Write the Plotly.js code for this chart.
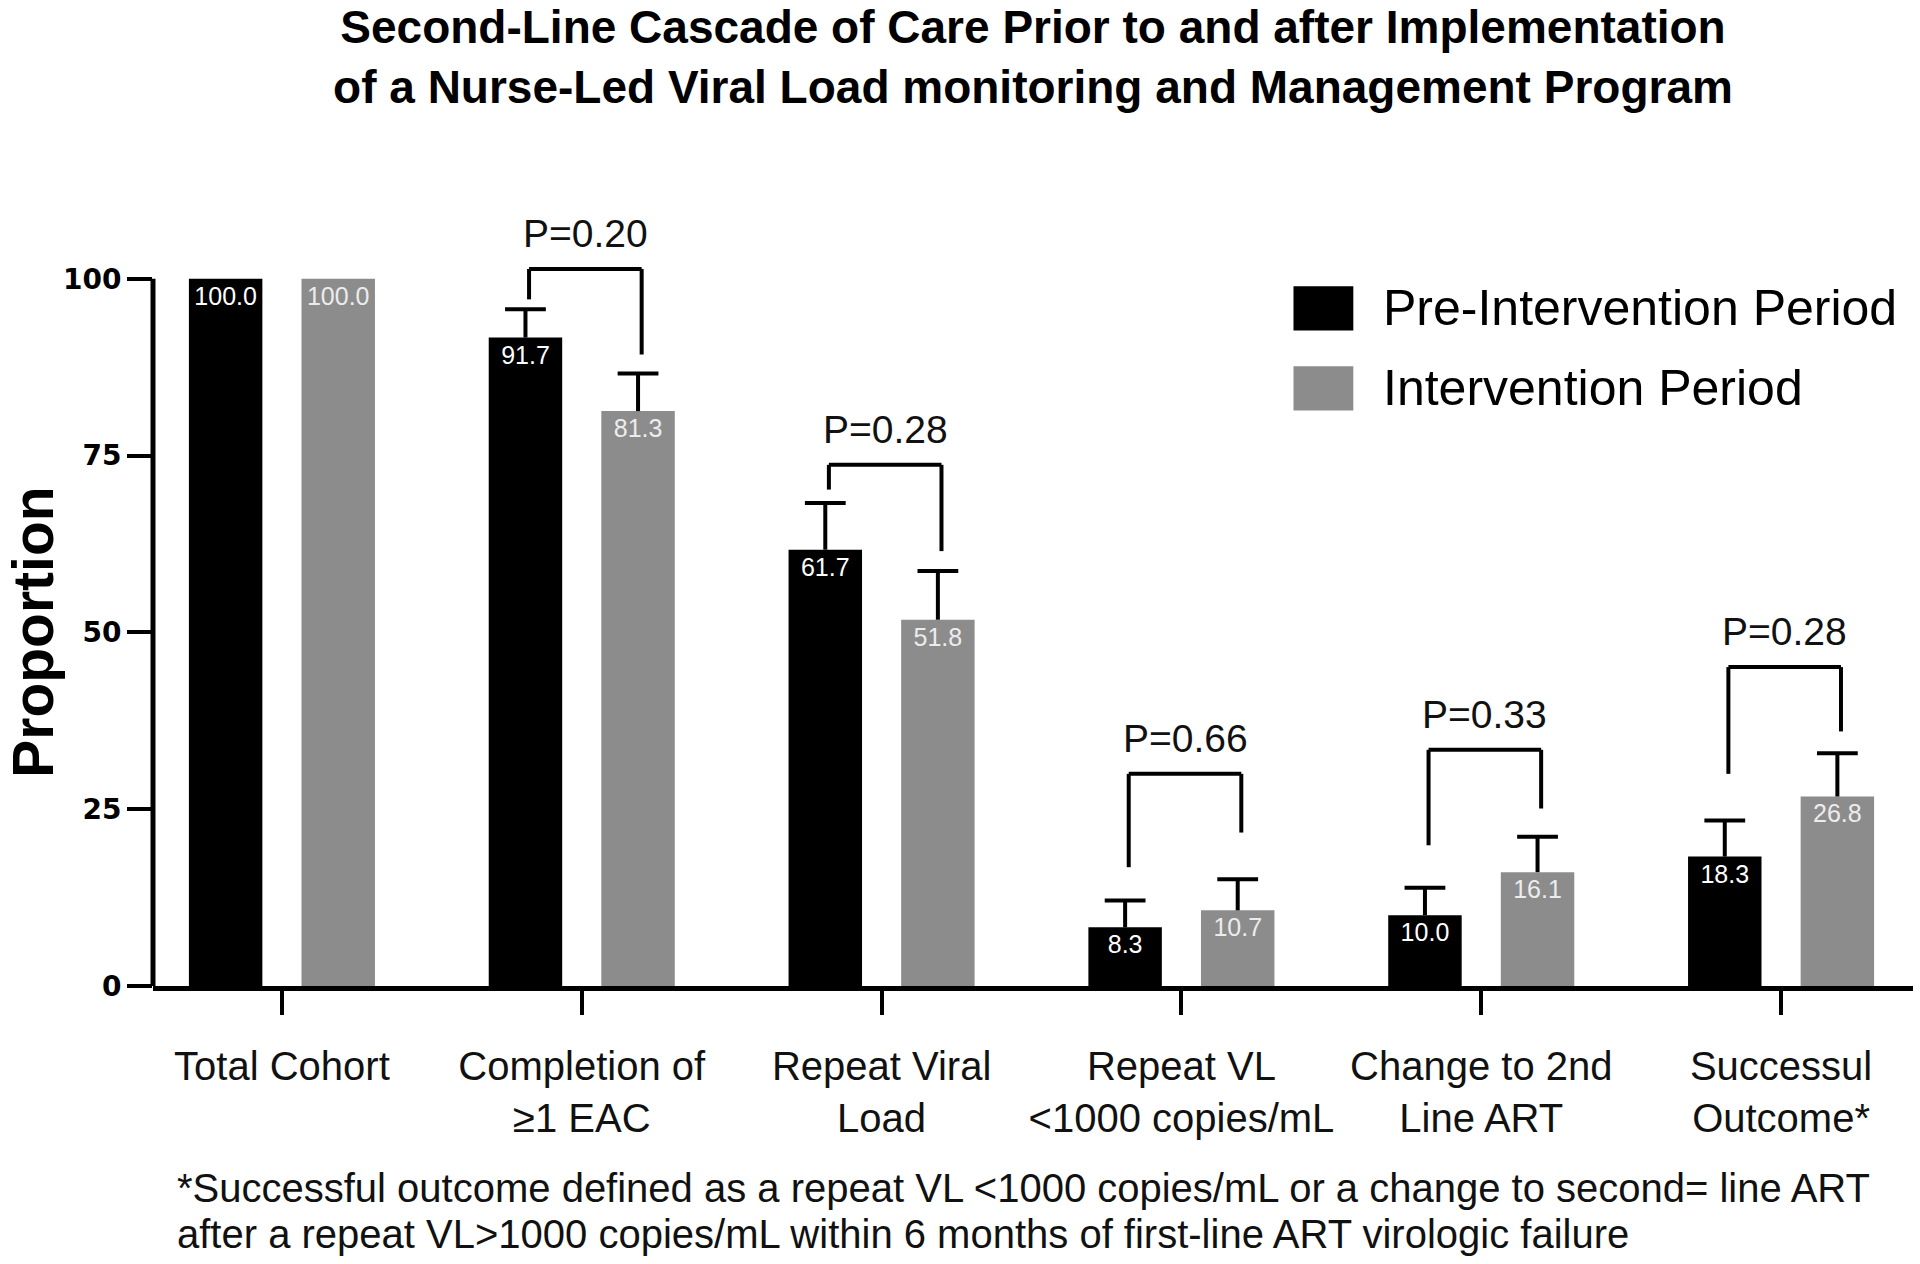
<!DOCTYPE html>
<html><head><meta charset="utf-8">
<script src="https://cdn.plot.ly/plotly-3.0.1.min.js"></script>
<style>html,body{margin:0;padding:0;background:#fff}#chart{width:1920px;height:1264px}</style>
</head><body><div id="chart"></div>
<script>
// ---- data ----
const categories = ['Total Cohort', 'Completion of ≥1 EAC', 'Repeat Viral Load', 'Repeat VL <1000 copies/mL', 'Change to 2nd Line ART', 'Successul Outcome*'];
const tickLabels = ['Total Cohort', 'Completion of<br>≥1 EAC', 'Repeat Viral<br>Load', 'Repeat VL<br>&lt;1000 copies/mL', 'Change to 2nd<br>Line ART', 'Successul<br>Outcome*'];
const seriesNames = ['Pre-Intervention Period', 'Intervention Period'];
const preVals = [100.0, 91.7, 61.7, 8.3, 10.0, 18.3];
const intVals = [100.0, 81.3, 51.8, 10.7, 16.1, 26.8];
const preErr = [null, 4.0, 6.6, 3.8, 3.9, 5.1];
const intErr = [null, 5.3, 6.9, 4.4, 5.0, 6.1];
const pLabels = ['', 'P=0.20', 'P=0.28', 'P=0.66', 'P=0.33', 'P=0.28'];
const bracketTop = [null, 101.4, 73.7, 30.0, 33.4, 45.1];
const bracketLeftEnd = [null, 97.1, 70.2, 16.8, 19.9, 30.0];
const bracketRightEnd = [null, 89.3, 61.5, 21.7, 25.1, 36.0];
const yTickVals = [0, 25, 50, 75, 100];
const footnoteLines = [
  '*Successful outcome defined as a repeat VL &lt;1000 copies/mL or a change to second= line ART',
  'after a repeat VL&gt;1000 copies/mL within 6 months of first-line ART virologic failure'
];

// ---- style ----
const FONT = 'Liberation Sans, Arial, sans-serif';
const BLACK = '#000000';
const GREY = '#8c8c8c';
const bargap = 0.249, bargroupgap = 0.3475;
const half = (1 - bargap) / 4; // centre offset of each bar within its group
const capHalf = 0.068;          // half-width of error caps, in category units
const bracketNudge = 0.012;     // brackets sit slightly right of bar centres

function errArr(a) { return a.map(v => (v === null ? undefined : v)); }

function barTrace(name, vals, errs, color, txtColor) {
  return {
    type: 'bar', name: name, x: categories, y: vals,
    marker: {color: color, line: {width: 0}},
    texttemplate: '%{y:.1f}', textposition: 'inside', insidetextanchor: 'end',
    textangle: 0, constraintext: 'none',
    textfont: {family: FONT, size: 25, color: txtColor},
    error_y: {type: 'data', symmetric: false, array: errArr(errs), color: '#000', thickness: 4, width: 0},
    showlegend: false, hoverinfo: 'skip'
  };
}

const traces = [
  barTrace(seriesNames[0], preVals, preErr, BLACK, '#ffffff'),
  barTrace(seriesNames[1], intVals, intErr, GREY, '#ececec')
];

const shapes = [];
const annotations = [];

// y-axis line from 0 to 100 only
shapes.push({type: 'line', xref: 'paper', yref: 'y', x0: 0, x1: 0, y0: 0, y1: yTickVals[yTickVals.length - 1],
  line: {color: '#000', width: 5}});

// error-bar caps (upper only)
[[preVals, preErr, -1], [intVals, intErr, 1]].forEach(([vals, errs, side]) => {
  vals.forEach((v, i) => {
    if (errs[i] === null) return;
    const xc = i + side * half;
    shapes.push({type: 'line', xref: 'x', yref: 'y', x0: xc - capHalf, x1: xc + capHalf,
      y0: v + errs[i], y1: v + errs[i], line: {color: '#000', width: 4}});
  });
});

// significance brackets
categories.forEach((c, i) => {
  if (bracketTop[i] === null) return;
  const xl = i - half + bracketNudge, xr = i + half + bracketNudge;
  const ln = {color: '#000', width: 4};
  shapes.push({type: 'line', xref: 'x', yref: 'y', x0: xl, x1: xl, y0: bracketLeftEnd[i], y1: bracketTop[i], line: ln});
  shapes.push({type: 'line', xref: 'x', yref: 'y', x0: xl, x1: xr, y0: bracketTop[i], y1: bracketTop[i], line: ln});
  shapes.push({type: 'line', xref: 'x', yref: 'y', x0: xr, x1: xr, y0: bracketTop[i], y1: bracketRightEnd[i], line: ln});
  annotations.push({xref: 'x', yref: 'y', x: i + bracketNudge, y: bracketTop[i], text: pLabels[i], showarrow: false,
    xanchor: 'center', yanchor: 'bottom', yshift: 12,
    font: {family: FONT, size: 39, color: '#111'}});
});

// custom legend
const legColors = [BLACK, GREY];
const legY = [0.8555, 0.7545];
seriesNames.forEach((n, k) => {
  shapes.push({type: 'rect', xref: 'paper', yref: 'paper', x0: 0.648, x1: 0.682, y0: legY[k] - 0.028, y1: legY[k] + 0.028,
    fillcolor: legColors[k], line: {width: 0}});
  annotations.push({xref: 'paper', yref: 'paper', x: 0.698, y: legY[k], text: n, showarrow: false,
    xanchor: 'left', yanchor: 'middle', font: {family: FONT, size: 50, color: '#000'}});
});

// y-axis title
annotations.push({xref: 'paper', yref: 'y', x: -0.068, y: 50, text: 'Proportion', textangle: -90, showarrow: false,
  xanchor: 'center', yanchor: 'middle', font: {family: FONT, size: 57, color: '#000', weight: 'bold'}});

// footnote
const footY = [-0.255, -0.3135];
footnoteLines.forEach((t, k) => {
  annotations.push({xref: 'paper', yref: 'paper', x: 0.0125, y: footY[k], text: t, showarrow: false,
    xanchor: 'left', yanchor: 'middle', align: 'left', font: {family: FONT, size: 40, color: '#111'}});
});

const layout = {
  width: 1920, height: 1264,
  paper_bgcolor: '#ffffff', plot_bgcolor: '#ffffff',
  margin: {l: 153, r: 7, t: 194, b: 278},
  barmode: 'group', bargap: bargap, bargroupgap: bargroupgap,
  showlegend: false,
  title: {
    text: 'Second-Line Cascade of Care Prior to and after Implementation<br>of a Nurse-Led Viral Load monitoring and Management Program',
    font: {family: FONT, size: 46, color: '#000', weight: 'bold'},
    xref: 'paper', x: 0.5, xanchor: 'center', yref: 'container', y: 0.966, yanchor: 'top'
  },
  xaxis: {
    type: 'category', range: [-0.43, 5.44], showgrid: false, zeroline: false,
    showline: true, linecolor: '#000', linewidth: 5,
    ticks: 'outside', ticklen: 24, tickwidth: 4, tickcolor: '#000',
    tickvals: categories, ticktext: tickLabels, ticklabelstandoff: 17,
    tickfont: {family: FONT, size: 40, color: '#111'}
  },
  yaxis: {
    range: [0, 112], showgrid: false, zeroline: false, showline: false,
    ticks: 'outside', ticklen: 25, tickwidth: 4, tickcolor: '#000',
    tickvals: yTickVals, ticktext: yTickVals.map(String),
    tickfont: {family: 'DejaVu Sans, sans-serif', size: 28, color: '#000', weight: 'bold'}
  },
  shapes: shapes,
  annotations: annotations
};

Plotly.newPlot('chart', traces, layout, {staticPlot: true, displayModeBar: false});
</script>
</body></html>
